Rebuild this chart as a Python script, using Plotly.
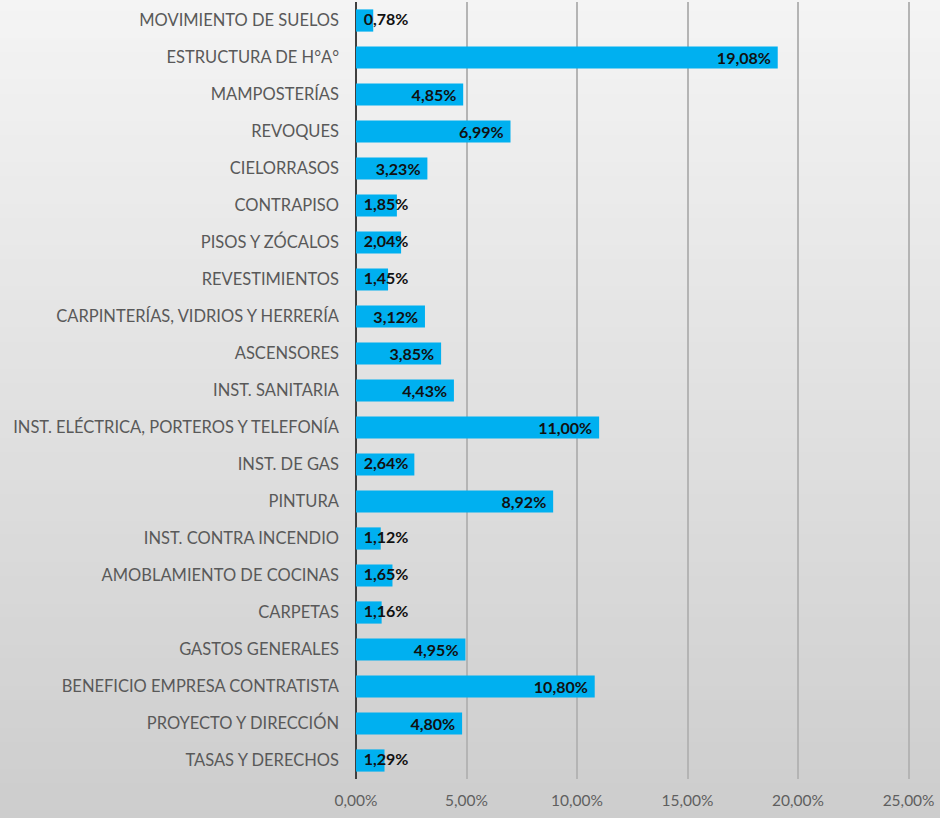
import plotly.graph_objects as go

# data
categorias = [
    "MOVIMIENTO DE SUELOS",
    "ESTRUCTURA DE H°A°",
    "MAMPOSTERÍAS",
    "REVOQUES",
    "CIELORRASOS",
    "CONTRAPISO",
    "PISOS Y ZÓCALOS",
    "REVESTIMIENTOS",
    "CARPINTERÍAS, VIDRIOS Y HERRERÍA",
    "ASCENSORES",
    "INST. SANITARIA",
    "INST. ELÉCTRICA, PORTEROS Y TELEFONÍA",
    "INST. DE GAS",
    "PINTURA",
    "INST. CONTRA INCENDIO",
    "AMOBLAMIENTO DE COCINAS",
    "CARPETAS",
    "GASTOS GENERALES",
    "BENEFICIO EMPRESA CONTRATISTA",
    "PROYECTO Y DIRECCIÓN",
    "TASAS Y DERECHOS",
]
porcentajes = [0.78, 19.08, 4.85, 6.99, 3.23, 1.85, 2.04, 1.45, 3.12, 3.85, 4.43,
               11.00, 2.64, 8.92, 1.12, 1.65, 1.16, 4.95, 10.80, 4.80, 1.29]
ticks_x = [0, 5, 10, 15, 20, 25]
ticks_txt = ["0,00%", "5,00%", "10,00%", "15,00%", "20,00%", "25,00%"]

# short bars: label does not fit inside, Excel starts it at the axis
umbral = 2.7
chicos_y = [c for c, v in zip(categorias, porcentajes) if v < umbral]
chicos_v = [v for v in porcentajes if v < umbral]

etiqueta = dict(family="Lato", size=16, color="#111111", weight="bold")

fig = go.Figure()

fig.add_trace(go.Bar(
    x=porcentajes,
    y=categorias,
    orientation="h",
    marker=dict(color="#00B0F0", line=dict(width=0)),
    texttemplate=["%{x:.2f}%\u00a0" if v >= umbral else "" for v in porcentajes],
    textposition="inside",
    insidetextanchor="end",
    constraintext="none",
    textfont=etiqueta,
    hoverinfo="x+y",
    showlegend=False,
))

fig.add_trace(go.Scatter(
    x=[0] * len(chicos_v),
    y=chicos_y,
    customdata=chicos_v,
    mode="text",
    texttemplate="\u00a0\u00a0%{customdata:.2f}%",
    textposition="middle right",
    textfont=etiqueta,
    hoverinfo="skip",
    showlegend=False,
    cliponaxis=False,
))

# gray gradient background (light at the top, darker at the bottom)
shapes = []
n = 60
top_c = (244, 244, 244)
bot_c = (205, 205, 205)
y0p = -45 / 777
y1p = 1 + 5 / 777
for i in range(n):
    t = i / (n - 1)
    c = tuple(int(round(top_c[k] + (bot_c[k] - top_c[k]) * t)) for k in range(3))
    ya = y1p - (y1p - y0p) * i / n
    yb = y1p - (y1p - y0p) * (i + 1) / n
    shapes.append(dict(type="rect", xref="paper", yref="paper",
                       x0=-1, x1=1.2, y0=yb - 0.002, y1=ya,
                       fillcolor="rgb(%d,%d,%d)" % c, line=dict(width=0),
                       layer="below"))

fig.update_layout(
    width=940,
    height=818,
    margin=dict(l=356, r=27, t=2, b=39),
    paper_bgcolor="#e2e2e2",
    plot_bgcolor="rgba(0,0,0,0)",
    separators=",.",
    bargap=0.4,
    shapes=shapes,
    font=dict(family="Lato", size=16, color="#595959"),
    xaxis=dict(
        range=[0, 25.2],
        tickvals=ticks_x,
        ticktext=ticks_txt,
        showgrid=True,
        gridcolor="#b4b4b4",
        gridwidth=1.5,
        zeroline=True,
        zerolinecolor="#3f3f3f",
        zerolinewidth=2,
        showline=False,
        ticks="",
        ticklabelstandoff=10,
        tickfont=dict(family="Lato", size=15.5, color="#5f5f5f"),
        fixedrange=True,
        automargin=False,
    ),
    yaxis=dict(
        range=[20.5, -0.5],
        showgrid=False,
        zeroline=False,
        ticks="",
        ticklabelstandoff=16,
        tickfont=dict(family="Lato", size=16.5, color="#595959"),
        fixedrange=True,
        automargin=False,
    ),
)

fig.write_html("out.html", config={"displayModeBar": False},
               post_script="document.body.style.margin='0';")
